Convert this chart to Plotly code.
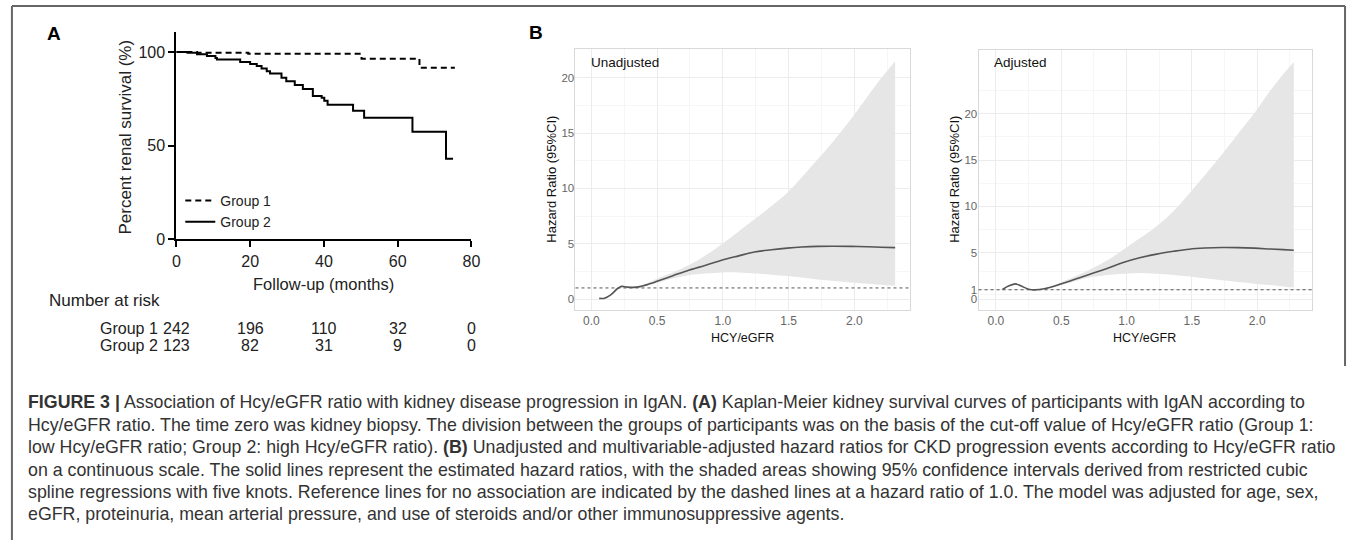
import plotly.graph_objects as go

W, H = 1357, 550
def px(x): return x / W
def py(y): return 1 - y / H

# ---------------- Panel A data (Kaplan-Meier) ----------------
g1_time = [0, 5.6, 19.5, 50.2, 65.9, 75.5]
g1_surv = [100, 99.6, 99.1, 96.5, 91.7, 91.7]
g2_time = [0, 3.0, 5.6, 8.3, 10.6, 11.0, 17.3, 20.0, 21.8, 23.1, 24.5, 25.4, 28.5,
           29.8, 32.1, 34.3, 37.0, 39.4, 40.1, 41.0, 47.9, 50.9, 64.0, 73.1, 75.0]
g2_surv = [100, 99.6, 98.9, 97.9, 96.8, 96.1, 94.7, 93.7, 92.6, 91.2, 89.8, 88.6, 86.3,
           84.5, 82.4, 80.3, 76.5, 75.6, 74.0, 71.9, 68.7, 64.9, 57.4, 43.0, 43.0]
risk_times = [0, 20, 40, 60, 80]
risk_g1 = [242, 196, 110, 32, 0]
risk_g2 = [123, 82, 31, 9, 0]
km_xticks = [0, 20, 40, 60, 80]
km_yticks = [0, 50, 100]

# ---------------- Panel B data (restricted cubic splines) ----------------
hcy_u = [0.06, 0.10, 0.15, 0.20, 0.23, 0.27, 0.32, 0.37, 0.45, 0.50, 0.62, 0.74, 0.87,
         0.99, 1.12, 1.24, 1.37, 1.49, 1.60, 1.72, 1.85, 1.97, 2.10, 2.20, 2.31]
hr_u = [0.06, 0.07, 0.40, 0.95, 1.14, 1.08, 1.05, 1.12, 1.40, 1.60, 2.10, 2.60, 3.05,
        3.50, 3.90, 4.25, 4.45, 4.60, 4.70, 4.76, 4.77, 4.76, 4.72, 4.68, 4.64]
up_u = [0.08, 0.09, 0.45, 1.00, 1.20, 1.15, 1.12, 1.22, 1.55, 1.85, 2.40, 3.05, 3.95,
        4.95, 6.10, 7.20, 8.40, 9.60, 11.0, 12.6, 14.4, 16.2, 18.3, 19.9, 21.5]
lo_u = [0.04, 0.05, 0.35, 0.90, 1.08, 1.02, 1.00, 1.05, 1.30, 1.45, 1.85, 2.15, 2.30,
        2.40, 2.40, 2.30, 2.20, 2.07, 1.95, 1.77, 1.62, 1.50, 1.38, 1.28, 1.20]

hcy_a = [0.05, 0.10, 0.15, 0.19, 0.25, 0.30, 0.37, 0.45, 0.49, 0.61, 0.73, 0.86, 0.98,
         1.10, 1.23, 1.36, 1.48, 1.60, 1.73, 1.85, 1.98, 2.10, 2.20, 2.28]
hr_a = [1.03, 1.42, 1.63, 1.42, 1.06, 0.99, 1.10, 1.40, 1.59, 2.15, 2.73, 3.35, 3.96,
        4.45, 4.85, 5.15, 5.38, 5.50, 5.56, 5.55, 5.49, 5.40, 5.33, 5.27]
up_a = [1.06, 1.46, 1.68, 1.47, 1.10, 1.03, 1.15, 1.50, 1.75, 2.45, 3.26, 4.25, 5.38,
        6.55, 7.86, 9.50, 11.4, 13.4, 15.6, 17.8, 20.1, 22.5, 24.3, 25.6]
lo_a = [1.00, 1.38, 1.58, 1.37, 1.02, 0.95, 1.05, 1.30, 1.45, 1.95, 2.37, 2.60, 2.73,
        2.80, 2.73, 2.60, 2.44, 2.23, 2.02, 1.84, 1.66, 1.50, 1.36, 1.24]

rcs_xticks = [0.0, 0.5, 1.0, 1.5, 2.0]
rcs_xticktext = ["0.0", "0.5", "1.0", "1.5", "2.0"]
rcs_xminor = [0.25, 0.75, 1.25, 1.75, 2.25]
unadj_yticks = [0, 5, 10, 15, 20]
unadj_yminor = [2.5, 7.5, 12.5, 17.5, 22.5]
adj_yticks = [0, 1, 5, 10, 15, 20]
adj_yminor = [0.5, 3, 7.5, 12.5, 17.5, 22.5]

caption_lines = [
    "<b>FIGURE 3 |</b> Association of Hcy/eGFR ratio with kidney disease progression in IgAN. <b>(A)</b> Kaplan-Meier kidney survival curves of participants with IgAN according to",
    "Hcy/eGFR ratio. The time zero was kidney biopsy. The division between the groups of participants was on the basis of the cut-off value of Hcy/eGFR ratio (Group 1:",
    "low Hcy/eGFR ratio; Group 2: high Hcy/eGFR ratio). <b>(B)</b> Unadjusted and multivariable-adjusted hazard ratios for CKD progression events according to Hcy/eGFR ratio",
    "on a continuous scale. The solid lines represent the estimated hazard ratios, with the shaded areas showing 95% confidence intervals derived from restricted cubic",
    "spline regressions with five knots. Reference lines for no association are indicated by the dashed lines at a hazard ratio of 1.0. The model was adjusted for age, sex,",
    "eGFR, proteinuria, mean arterial pressure, and use of steroids and/or other immunosuppressive agents.",
]

FONT = "Liberation Sans, Arial, sans-serif"
fig = go.Figure()

# KM curves
fig.add_trace(go.Scatter(x=g1_time, y=g1_surv, mode="lines", name="Group 1",
                         line=dict(shape="hv", color="black", width=2, dash="6px,4px"),
                         xaxis="x", yaxis="y"))
fig.add_trace(go.Scatter(x=g2_time, y=g2_surv, mode="lines", name="Group 2",
                         line=dict(shape="hv", color="black", width=2),
                         xaxis="x", yaxis="y"))

RIB = "#e6e6e6"
LINE = "#555555"
for xs, lo, up, hr, xa, ya in [(hcy_u, lo_u, up_u, hr_u, "x2", "y2"),
                               (hcy_a, lo_a, up_a, hr_a, "x3", "y3")]:
    fig.add_trace(go.Scatter(x=xs, y=lo, mode="lines", line=dict(width=0, shape="spline"),
                             showlegend=False, hoverinfo="skip", xaxis=xa, yaxis=ya))
    fig.add_trace(go.Scatter(x=xs, y=up, mode="lines", line=dict(width=0, shape="spline"),
                             fill="tonexty", fillcolor=RIB, showlegend=False,
                             hoverinfo="skip", xaxis=xa, yaxis=ya))
    fig.add_trace(go.Scatter(x=xs, y=hr, mode="lines", line=dict(width=1.6, color=LINE, shape="spline"),
                             showlegend=False, xaxis=xa, yaxis=ya))

km_axis = dict(showline=True, linewidth=2, linecolor="black", ticks="outside", ticklen=6,
               tickwidth=2, tickcolor="black", showgrid=False, zeroline=False,
               tickfont=dict(family=FONT, size=16, color="#222"))
grid_major = "#ececec"
grid_minor = "#f6f6f6"
border = "#d9d9d9"
rcs_x = dict(showline=True, mirror=True, linewidth=1, linecolor=border, ticks="",
             showgrid=True, gridcolor=grid_major, gridwidth=1, zeroline=False,
             tickfont=dict(family=FONT, size=12, color="#666"))
rcs_y = dict(rcs_x, tickfont=dict(family=FONT, size=11.5, color="#666"), ticklabelstandoff=-2)

fig.update_layout(
    width=W, height=H, margin=dict(l=0, r=0, t=0, b=0),
    paper_bgcolor="white", plot_bgcolor="white",
    font=dict(family=FONT, color="#222"),
    showlegend=True,
    legend=dict(x=px(178), y=py(188), xanchor="left", yanchor="top", traceorder="normal",
                bgcolor="rgba(0,0,0,0)", font=dict(family=FONT, size=14, color="#222"),
                tracegroupgap=0, itemwidth=30),
    xaxis=dict(domain=[px(174), px(472)], range=[0, 80], tickvals=km_xticks,
               anchor="y", **km_axis),
    yaxis=dict(domain=[py(243.3), py(33)], range=[0, 110.5], tickvals=km_yticks,
               anchor="x", **km_axis),
    xaxis2=dict(domain=[px(577), px(915)], range=[-0.1205, 2.4247], tickvals=rcs_xticks,
                ticktext=rcs_xticktext, anchor="y2",
                minor=dict(tickvals=rcs_xminor, showgrid=True, gridcolor=grid_minor), **rcs_x),
    yaxis2=dict(domain=[py(315), py(50)], range=[-0.98, 22.58], tickvals=unadj_yticks,
                anchor="x2", minor=dict(tickvals=unadj_yminor, showgrid=True, gridcolor=grid_minor),
                **rcs_y),
    xaxis3=dict(domain=[px(984), px(1321)], range=[-0.133, 2.422], tickvals=rcs_xticks,
                ticktext=rcs_xticktext, anchor="y3",
                minor=dict(tickvals=rcs_xminor, showgrid=True, gridcolor=grid_minor), **rcs_x),
    yaxis3=dict(domain=[py(315), py(50.7)], range=[-1.17, 26.9], tickvals=adj_yticks,
                anchor="x3", minor=dict(tickvals=adj_yminor, showgrid=True, gridcolor=grid_minor),
                **rcs_y),
)

shapes = []
# reference lines at HR = 1
for xa, ya in [("x2", "y2"), ("x3", "y3")]:
    shapes.append(dict(type="line", xref=f"{xa} domain", yref=ya, x0=0, x1=1, y0=1, y1=1,
                       line=dict(color="#555", width=1, dash="dot"), layer="above"))
# figure frame
FR = "#666"
shapes.append(dict(type="line", xref="paper", yref="paper", x0=px(8), x1=px(8), y0=py(6), y1=py(549),
                   line=dict(color=FR, width=2)))
shapes.append(dict(type="line", xref="paper", yref="paper", x0=px(8), x1=px(1354), y0=py(6), y1=py(6),
                   line=dict(color=FR, width=2)))
shapes.append(dict(type="line", xref="paper", yref="paper", x0=px(1354), x1=px(1354), y0=py(6), y1=py(372),
                   line=dict(color=FR, width=2)))
fig.update_layout(shapes=shapes)

ann = []
def txt(x, y, text, size, color="#222", xanchor="center", bold=False, angle=0, xref="paper", family=FONT):
    ann.append(dict(x=x, y=y, xref=xref, yref="paper", text=f"<b>{text}</b>" if bold else text,
                    showarrow=False, xanchor=xanchor, yanchor="middle", textangle=angle,
                    font=dict(family=family, size=size, color=color)))

# Panel labels
txt(px(50), py(34), "A", 19, "#000", bold=True)
txt(px(537), py(33), "B", 19, "#000", bold=True)
# Panel A titles
txt(px(123), py(139), "Percent renal survival (%)", 17, angle=-90)
txt(px(323), py(289), "Follow-up (months)", 16.5)
txt(px(43), py(305), "Number at risk", 17, xanchor="left")
txt(px(95), py(334), "Group 1", 16, xanchor="left")
txt(px(95), py(351), "Group 2", 16, xanchor="left")
for t, n in zip(risk_times, risk_g1):
    txt(t, py(334), str(n), 16, xref="x")
for t, n in zip(risk_times, risk_g2):
    txt(t, py(351), str(n), 16, xref="x")
# Panel B titles
txt(px(552), py(182), "Hazard Ratio (95%CI)", 13, "#111", angle=-90)
txt(px(959), py(182), "Hazard Ratio (95%CI)", 13, "#111", angle=-90)
txt(px(746), py(344), "HCY/eGFR", 12.5, "#111")
txt(px(1152), py(344), "HCY/eGFR", 12.5, "#111")
txt(px(591), py(64), "Unadjusted", 13.5, "#111", xanchor="left")
txt(px(998), py(64), "Adjusted", 13.5, "#111", xanchor="left")
# Caption
cap_y0, cap_dy = 409, 22.8
for i, line in enumerate(caption_lines):
    txt(px(22), py(cap_y0 + i * cap_dy), line, 17.8, "#333", xanchor="left")

fig.update_layout(annotations=ann)
fig.write_html("out.html")
